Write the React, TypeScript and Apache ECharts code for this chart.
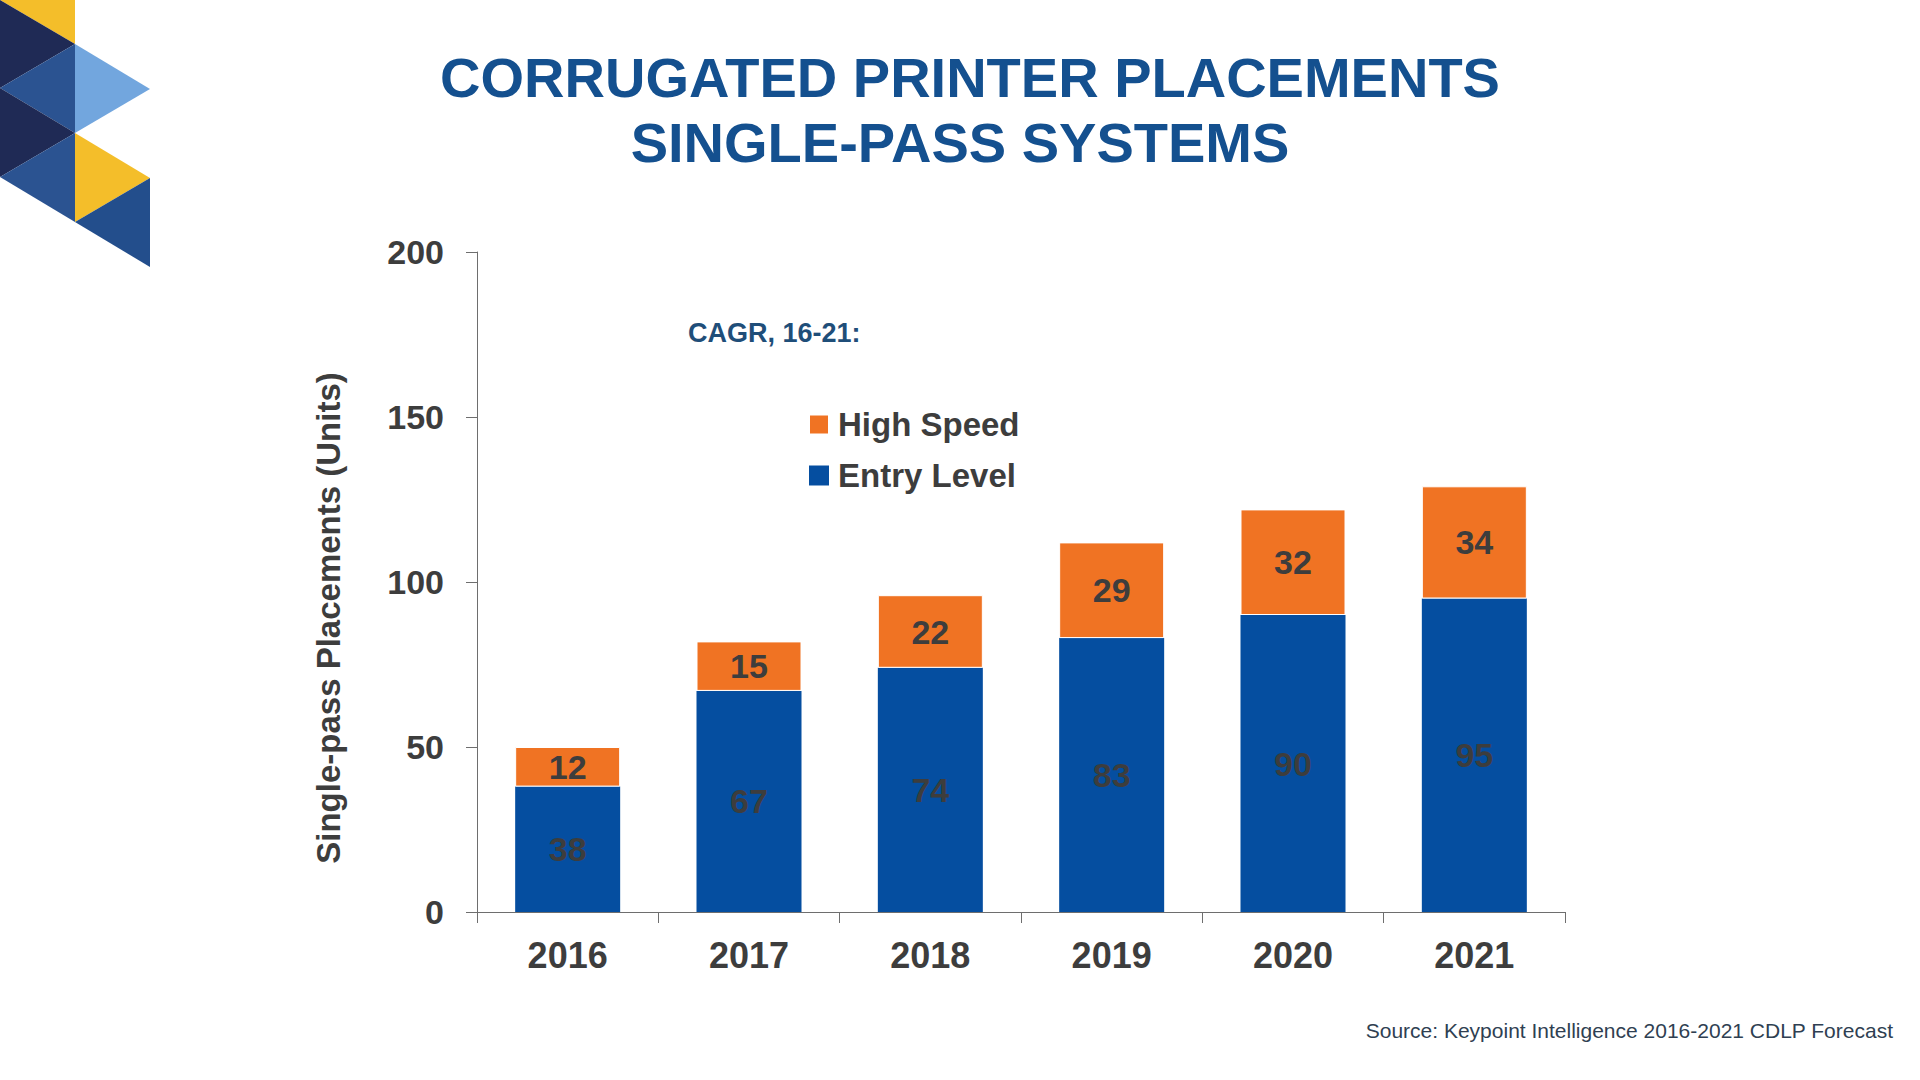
import React, { useEffect, useRef } from "react";
import * as echarts from "echarts";

const years = ["2016", "2017", "2018", "2019", "2020", "2021"];
const entryLevel = [38, 67, 74, 83, 90, 95];
const highSpeed = [12, 15, 22, 29, 32, 34];
const titleLines = ["CORRUGATED PRINTER PLACEMENTS", "SINGLE-PASS SYSTEMS"];
const yAxisName = "Single-pass Placements (Units)";
const cagrText = "CAGR, 16-21:";
const sourceText = "Source: Keypoint Intelligence 2016-2021 CDLP Forecast";

const FONT = '"Liberation Sans", Arial, Helvetica, sans-serif';
const BLUE = "#054ea0";
const ORANGE = "#f07323";
const LABEL = "#3d3d3d";
const AXIS = "#6e6e6e";

export default function App() {
  const ref = useRef<HTMLDivElement>(null);

  useEffect(() => {
    document.body.style.margin = "0";
    const chart = echarts.init(ref.current!, undefined, { renderer: "svg" });

    const tri = (pts: number[][], fill: string) => ({
      type: "polygon",
      shape: { points: pts },
      style: { fill },
      silent: true,
    });

    chart.setOption({
      animation: false,
      backgroundColor: "#ffffff",
      textStyle: { fontFamily: FONT },
      grid: { left: 477, top: 252, right: 355, bottom: 168 },
      legend: {
        orient: "vertical",
        left: 808,
        top: 408,
        padding: 0,
        itemWidth: 20,
        itemHeight: 20,
        itemGap: 18,
        icon: "rect",
        data: ["High Speed", "Entry Level"],
        textStyle: {
          fontFamily: FONT,
          fontSize: 33,
          fontWeight: "bold",
          color: LABEL,
          padding: [0, 0, 0, 4],
        },
      },
      xAxis: {
        type: "category",
        data: years,
        axisLine: { show: true, lineStyle: { color: AXIS, width: 1 } },
        axisTick: { show: true, length: 11, lineStyle: { color: AXIS } },
        axisLabel: {
          fontFamily: FONT,
          fontSize: 36,
          fontWeight: "bold",
          color: LABEL,
          margin: 25,
        },
        splitLine: { show: false },
      },
      yAxis: {
        type: "value",
        min: 0,
        max: 200,
        interval: 50,
        axisLine: { show: true, lineStyle: { color: AXIS, width: 1 } },
        axisTick: { show: true, length: 11, lineStyle: { color: AXIS } },
        axisLabel: {
          fontFamily: FONT,
          fontSize: 34,
          fontWeight: "bold",
          color: LABEL,
          margin: 33,
        },
        splitLine: { show: false },
      },
      series: [
        {
          name: "Entry Level",
          type: "bar",
          stack: "total",
          data: entryLevel,
          barWidth: 105,
          itemStyle: { color: BLUE },
          label: {
            show: true,
            position: "inside",
            fontFamily: FONT,
            fontSize: 34,
            fontWeight: "bold",
            color: LABEL,
          },
        },
        {
          name: "High Speed",
          type: "bar",
          stack: "total",
          data: highSpeed,
          barWidth: 105,
          itemStyle: { color: ORANGE, borderColor: "#ffffff", borderWidth: 1 },
          label: {
            show: true,
            position: "inside",
            fontFamily: FONT,
            fontSize: 34,
            fontWeight: "bold",
            color: LABEL,
          },
        },
      ],
      graphic: [
        tri([[0, 0], [75, 0], [75, 44]], "#f4be2a"),
        tri([[0, 0], [75, 44], [0, 88]], "#1f2a55"),
        tri([[0, 88], [75, 44], [75, 133]], "#2b5391"),
        tri([[75, 44], [150, 89], [75, 133]], "#72a6de"),
        tri([[0, 88], [75, 133], [0, 177]], "#1f2a55"),
        tri([[0, 177], [75, 133], [75, 222]], "#2b5391"),
        tri([[75, 133], [150, 178], [75, 222]], "#f4be2a"),
        tri([[75, 222], [150, 178], [150, 267]], "#234e8c"),
        {
          type: "text",
          x: 970,
          y: 77,
          style: {
            text: titleLines[0],
            font: `bold 56px ${FONT}`,
            fill: "#14508f",
            align: "center",
            verticalAlign: "middle",
          },
        },
        {
          type: "text",
          x: 960,
          y: 142,
          style: {
            text: titleLines[1],
            font: `bold 56px ${FONT}`,
            fill: "#14508f",
            align: "center",
            verticalAlign: "middle",
          },
        },
        {
          type: "text",
          x: 328,
          y: 618,
          rotation: Math.PI / 2,
          style: {
            text: yAxisName,
            font: `bold 33px ${FONT}`,
            fill: LABEL,
            align: "center",
            verticalAlign: "middle",
          },
        },
        {
          type: "text",
          x: 688,
          y: 333,
          style: {
            text: cagrText,
            font: `bold 27px ${FONT}`,
            fill: "#1f4e79",
            align: "left",
            verticalAlign: "middle",
          },
        },
        {
          type: "text",
          x: 1893,
          y: 1030,
          style: {
            text: sourceText,
            font: `21px ${FONT}`,
            fill: "#2f3f52",
            align: "right",
            verticalAlign: "middle",
          },
        },
      ],
    });

    return () => chart.dispose();
  }, []);

  return (
    <div
      ref={ref}
      style={{ position: "fixed", left: 0, top: 0, width: 1920, height: 1080 }}
    />
  );
}
